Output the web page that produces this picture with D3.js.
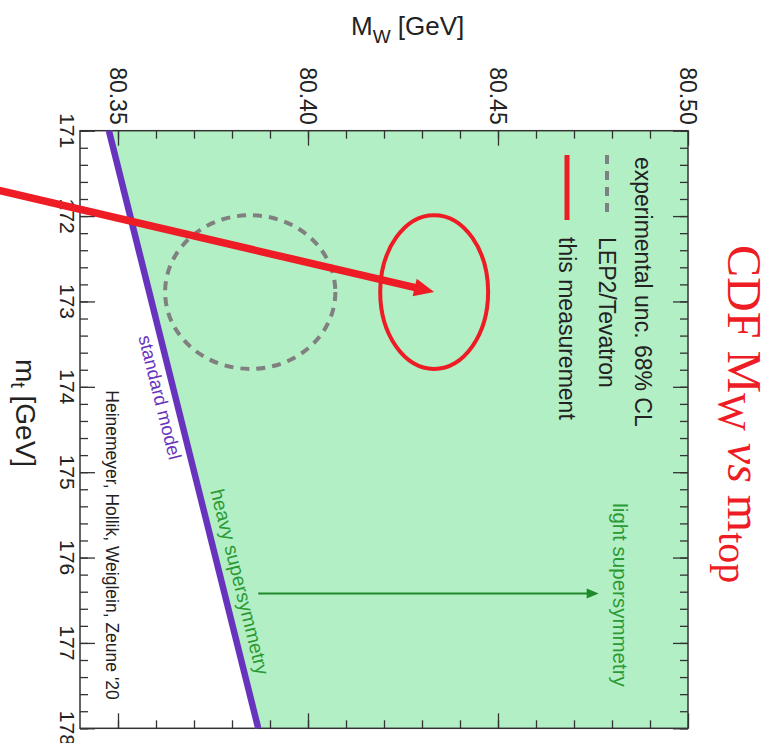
<!DOCTYPE html>
<html><head><meta charset="utf-8">
<script src="https://cdn.jsdelivr.net/npm/d3@7"></script>
<style>body{margin:0;background:#fff} svg{display:block}</style>
</head><body>
<script>
// W mass (horizontal) against top mass (vertical): the plot is laid out turned a quarter-turn clockwise.
const mwDomain = [80.34, 80.50];
const mtDomain = [171, 178];
const mwTickLabels = ["80.35", "80.40", "80.45", "80.50"];
const mtTickLabels = ["171", "172", "173", "174", "175", "176", "177", "178"];

// Standard-model prediction (end points of the band edge)
const smMt = [171, 178];
const smMw = [80.3476, 80.3869];

// 68% CL contours: LEP2/Tevatron and this measurement
const contourNames = ["LEP2/Tevatron", "this measurement"];
const contourMw = [80.3848, 80.4332];
const contourMt = [172.89, 172.89];
const contourHalfMw = [0.0224, 0.0142];
const contourHalfMt = [0.90, 0.90];

// Arrow from heavy to light supersymmetry
const susyArrowMt = 176.42;
const susyArrowMw = [80.3869, 80.4765];

// Red pointer ending on the new measurement
const pointerStart = [80.3177, 171.69];

const W = 779, H = 743;
const L = 80, R = 688, T = 130.7, B = 728.3;

const svg = d3.select("body").append("svg").attr("width", W).attr("height", H);
const x = d3.scaleLinear().domain(mwDomain).range([L, R]);
const y = d3.scaleLinear().domain(mtDomain).range([T, B]);

const sans = "'Liberation Sans', Arial, Helvetica, sans-serif";
const purple = "#6834bd", red = "#ee1c24", green = "#2b9a35", gray = "#808080";

// allowed region to the right of the SM line
const region = [[smMw[0], smMt[0]], [mwDomain[1], mtDomain[0]], [mwDomain[1], mtDomain[1]], [smMw[1], smMt[1]]];
svg.append("path")
  .attr("d", d3.line().x(d => x(d[0])).y(d => y(d[1]))(region) + "Z")
  .attr("fill", "#b3efc5");

// ticks on all four sides, pointing inward
function ticks(axisFn, scale, values, size, tr) {
  const g = svg.append("g").attr("transform", tr)
    .call(axisFn(scale).tickValues(values).tickSize(size).tickFormat(""));
  g.select(".domain").remove();
  g.selectAll("line").attr("stroke", "#333").attr("stroke-width", 1.3);
}
const mwMinor = d3.range(35, 50).map(v => 80 + v / 100);
const mwMajor = mwTickLabels.map(Number);
const mtMinor = d3.range(0, 36).map(v => 171 + v / 5);
const mtMajor = mtTickLabels.map(Number);
ticks(d3.axisBottom, x, mwMinor, 8, `translate(0,${T})`);
ticks(d3.axisBottom, x, mwMajor, 15, `translate(0,${T})`);
ticks(d3.axisTop, x, mwMinor, 8, `translate(0,${B})`);
ticks(d3.axisTop, x, mwMajor, 15, `translate(0,${B})`);
ticks(d3.axisRight, y, mtMinor, 8, `translate(${L},0)`);
ticks(d3.axisRight, y, mtMajor, 15, `translate(${L},0)`);
ticks(d3.axisLeft, y, mtMinor, 8, `translate(${R},0)`);
ticks(d3.axisLeft, y, mtMajor, 15, `translate(${R},0)`);

// frame
svg.append("rect").attr("x", L).attr("y", T).attr("width", R - L).attr("height", B - T)
  .attr("fill", "none").attr("stroke", "#333").attr("stroke-width", 1.5);

// SM line
svg.append("line")
  .attr("x1", x(smMw[0])).attr("y1", y(smMt[0]))
  .attr("x2", x(smMw[1])).attr("y2", y(smMt[1]))
  .attr("stroke", purple).attr("stroke-width", 6.5);

// contours
svg.selectAll("ellipse.contour").data(contourNames).enter().append("ellipse")
  .attr("class", "contour")
  .attr("cx", (d, i) => x(contourMw[i]))
  .attr("cy", (d, i) => y(contourMt[i]))
  .attr("rx", (d, i) => x(contourMw[i] + contourHalfMw[i]) - x(contourMw[i]))
  .attr("ry", (d, i) => y(contourMt[i] + contourHalfMt[i]) - y(contourMt[i]))
  .attr("fill", "none")
  .attr("stroke", (d, i) => i === 0 ? gray : red)
  .attr("stroke-width", 4)
  .attr("stroke-dasharray", (d, i) => i === 0 ? "9,7" : null);

// rotated text helper (reads top to bottom)
function vtext(px, py, anchor) {
  return svg.append("text")
    .attr("transform", `translate(${px},${py}) rotate(90)`)
    .attr("text-anchor", anchor)
    .attr("font-family", sans);
}

// tick labels
mwTickLabels.forEach(s => {
  vtext(x(+s), T - 6, "end").attr("dominant-baseline", "central")
    .attr("font-size", 23).attr("fill", "#222").text(s);
});
mtTickLabels.forEach(s => {
  vtext(L - 13, y(+s), "middle").attr("dominant-baseline", "central")
    .attr("font-size", 21).attr("fill", "#222").text(s);
});

// axis titles
const mwTitle = svg.append("text").attr("x", 351).attr("y", 35)
  .attr("font-family", sans).attr("font-size", 26).attr("fill", "#222");
mwTitle.append("tspan").text("M");
mwTitle.append("tspan").attr("dy", 8).attr("font-size", 19).text("W");
mwTitle.append("tspan").attr("dy", -8).text(" [GeV]");

const mtTitle = vtext(26, 413, "middle").attr("dominant-baseline", "central")
  .attr("font-size", 28).attr("fill", "#222");
mtTitle.append("tspan").text("m");
mtTitle.append("tspan").attr("dy", 8).attr("font-size", 20).text("t");
mtTitle.append("tspan").attr("dy", -8).text(" [GeV]");

// chart title
const title = svg.append("text")
  .attr("transform", `translate(745,245) rotate(90)`)
  .attr("dominant-baseline", "central")
  .attr("font-family", "'Liberation Serif', 'Times New Roman', serif")
  .attr("font-size", 48).attr("fill", red);
title.append("tspan").text("CDF M");
title.append("tspan").attr("dy", 12).attr("font-size", 40).text("W");
title.append("tspan").attr("dy", -12).attr("font-style", "italic").text(" vs ");
title.append("tspan").text("m");
title.append("tspan").attr("dy", 12).attr("font-size", 40).text("top");

// legend
const legendSize = 23;
vtext(643, 157, "start").attr("dominant-baseline", "central")
  .attr("font-size", legendSize).attr("fill", "#222").text("experimental unc. 68% CL");
svg.append("line").attr("x1", 607).attr("x2", 607).attr("y1", 155).attr("y2", 219)
  .attr("stroke", gray).attr("stroke-width", 4).attr("stroke-dasharray", "9,7");
vtext(607, 237, "start").attr("dominant-baseline", "central")
  .attr("font-size", legendSize).attr("fill", "#222").text(contourNames[0]);
svg.append("line").attr("x1", 567).attr("x2", 567).attr("y1", 155).attr("y2", 220)
  .attr("stroke", red).attr("stroke-width", 5);
vtext(567, 237, "start").attr("dominant-baseline", "central")
  .attr("font-size", legendSize).attr("fill", "#222").text(contourNames[1]);

// labels along the SM line
const ang = Math.atan2(y(smMt[1]) - y(smMt[0]), x(smMw[1]) - x(smMw[0])) * 180 / Math.PI;
function alongLine(frac, offset, str, col, size) {
  const px = x(smMw[0]) + frac * (x(smMw[1]) - x(smMw[0]));
  const py = y(smMt[0]) + frac * (y(smMt[1]) - y(smMt[0]));
  const a = ang * Math.PI / 180;
  svg.append("text")
    .attr("transform", `translate(${px - offset * Math.sin(a)},${py + offset * Math.cos(a)}) rotate(${ang})`)
    .attr("text-anchor", "middle").attr("dominant-baseline", "central")
    .attr("font-family", sans).attr("font-size", size).attr("fill", col).text(str);
}
alongLine(0.44, 15, "standard model", purple, 18.5);
alongLine(0.762, -18, "heavy supersymmetry", green, 19.5);

// citation
vtext(112, 545, "middle").attr("dominant-baseline", "central")
  .attr("font-size", 17.5).attr("fill", "#222").text("Heinemeyer, Hollik, Weiglein, Zeune '20");

// light supersymmetry arrow
const ay = y(susyArrowMt);
svg.append("line").attr("x1", x(susyArrowMw[0])).attr("x2", x(susyArrowMw[1]) - 8)
  .attr("y1", ay).attr("y2", ay).attr("stroke", "#1f8a2a").attr("stroke-width", 2);
svg.append("path")
  .attr("d", `M${x(susyArrowMw[1])},${ay} l-12,-5 l0,10 Z`).attr("fill", "#1f8a2a");
vtext(620, 595, "middle").attr("dominant-baseline", "central")
  .attr("font-size", 20.5).attr("fill", green).text("light supersymmetry");

// red pointer to this measurement
const p0 = [x(pointerStart[0]), y(pointerStart[1])];
const p1 = [x(contourMw[1]), y(contourMt[1])];
const dx = p1[0] - p0[0], dy = p1[1] - p0[1], len = Math.hypot(dx, dy);
const ux = dx / len, uy = dy / len, head = 20, hw = 9;
svg.append("line").attr("x1", p0[0]).attr("y1", p0[1])
  .attr("x2", p1[0] - ux * head * 0.8).attr("y2", p1[1] - uy * head * 0.8)
  .attr("stroke", red).attr("stroke-width", 7.5);
svg.append("path").attr("d",
  `M${p1[0]},${p1[1]} L${p1[0] - ux * head - uy * hw},${p1[1] - uy * head + ux * hw} L${p1[0] - ux * head + uy * hw},${p1[1] - uy * head - ux * hw} Z`)
  .attr("fill", red);
</script>
</body></html>
